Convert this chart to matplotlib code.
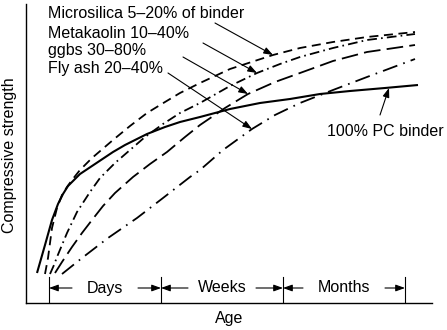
import matplotlib
matplotlib.use("Agg")
import matplotlib.pyplot as plt

plt.rcParams['font.family'] = ['Liberation Sans', 'DejaVu Sans']
plt.rcParams['lines.scale_dashes'] = False

# ---- data (arbitrary age / strength units) ----
pc_age = [11, 19, 26, 32, 37, 42, 48, 54, 66, 87, 99, 121, 139, 154, 174, 204, 234, 264, 294, 324, 359, 392]
pc_str = [30, 58, 83, 99, 109, 117, 123, 129, 137, 151, 158, 169, 176, 181, 186, 194, 200, 204, 209, 212, 215, 218]

ms_age = [19, 22, 26, 31, 36, 41, 46, 54, 66, 87, 104, 121, 139, 154, 174, 204, 247, 274, 307, 341, 389]
ms_str = [29, 45, 75, 95, 108, 116, 123, 133, 145, 163, 177, 190, 201, 210, 220, 234, 248, 255, 261, 266, 271]

mk_age = [24, 28, 31, 36, 41, 51, 64, 74, 89, 104, 119, 137, 154, 174, 204, 231, 254, 274, 307, 341, 389]
mk_str = [29, 38, 46, 58, 70, 91, 111, 125, 140, 153, 166, 179, 190, 200, 217, 230, 239, 246, 255, 263, 269]

gg_age = [29, 36, 46, 56, 66, 77, 89, 107, 124, 141, 159, 174, 199, 222, 249, 274, 307, 341, 389]
gg_str = [30, 41, 56, 70, 83, 97, 110, 126, 139, 151, 166, 178, 195, 209, 221, 230, 242, 251, 258]

fa_age = [36, 46, 56, 82, 111, 137, 164, 174, 197, 226, 249, 274, 307, 341, 389]
fa_str = [29, 37, 45, 65, 85, 105, 126, 133, 153, 174, 188, 200, 213, 226, 244]

labels = ["Microsilica 5\u201320% of binder", "Metakaolin 10\u201340%", "ggbs 30\u201380%", "Fly ash 20\u201340%"]
label_tips = [(247, 248), (231, 230), (222, 209), (226, 174)]
pc_label = "100% PC binder"

period_bounds = [23, 135, 257, 379]
period_labels = ["Days", "Weeks", "Months"]

# ---- figure ----
fig = plt.figure(figsize=(4.47, 3.30), dpi=100)
ax = fig.add_axes([26/447, 27/330, 406/447, 299/330])
ax.set_xlim(0, 406)
ax.set_ylim(0, 299)
for s in ['top', 'right']:
    ax.spines[s].set_visible(False)
for s in ['left', 'bottom']:
    ax.spines[s].set_linewidth(1.0)
ax.set_xticks([])
ax.set_yticks([])

lw = 1.3
ax.plot(pc_age, pc_str, color='black', lw=1.5, solid_capstyle='butt', solid_joinstyle='round')
ax.plot(ms_age, ms_str, color='black', lw=lw, linestyle=(0, (6.5, 4)))
ax.plot(mk_age, mk_str, color='black', lw=lw, linestyle=(0, (7, 3, 1.2, 3)))
ax.plot(gg_age, gg_str, color='black', lw=lw, linestyle=(0, (12, 4.5)))
ax.plot(fa_age, fa_str, color='black', lw=lw, linestyle=(0, (11, 4.5, 1.2, 4.5)))

fs = 11.5
aprops = dict(arrowstyle='-|>,head_length=0.55,head_width=0.2', lw=0.8, color='black',
              shrinkA=0, shrinkB=0)
text_ys = [289, 270, 252, 234]
tails = [(189, 280), (177, 260), (157, 246), (142, 230)]
for lab, ty, tail, tip in zip(labels, text_ys, tails, label_tips):
    ax.text(22, ty, lab, fontsize=fs, va='center', ha='left')
    ax.annotate('', xy=tip, xytext=tail, arrowprops=aprops)

ax.text(359, 172, pc_label, fontsize=fs, va='center', ha='center')
ax.annotate('', xy=(363, 215), xytext=(354, 188), arrowprops=aprops)

# period markers
for b in period_bounds:
    ax.plot([b, b], [0, 26], color='black', lw=0.8)
half_gaps = [33, 34, 41]
for i, lab in enumerate(period_labels):
    c = (period_bounds[i] + period_bounds[i + 1]) / 2
    ax.text(c, 15, lab, fontsize=fs, ha='center', va='center')
    ax.annotate('', xy=(period_bounds[i], 15), xytext=(c - half_gaps[i], 15), arrowprops=aprops)
    ax.annotate('', xy=(period_bounds[i + 1], 15), xytext=(c + half_gaps[i], 15), arrowprops=aprops)

fig.text(229/447, 1 - 318/330, "Age", fontsize=fs, ha='center', va='center')
fig.text(10/447, 1 - 155/330, "Compressive strength", fontsize=fs, ha='center', va='center',
         rotation=90)

fig.savefig("out.png", dpi=100)
